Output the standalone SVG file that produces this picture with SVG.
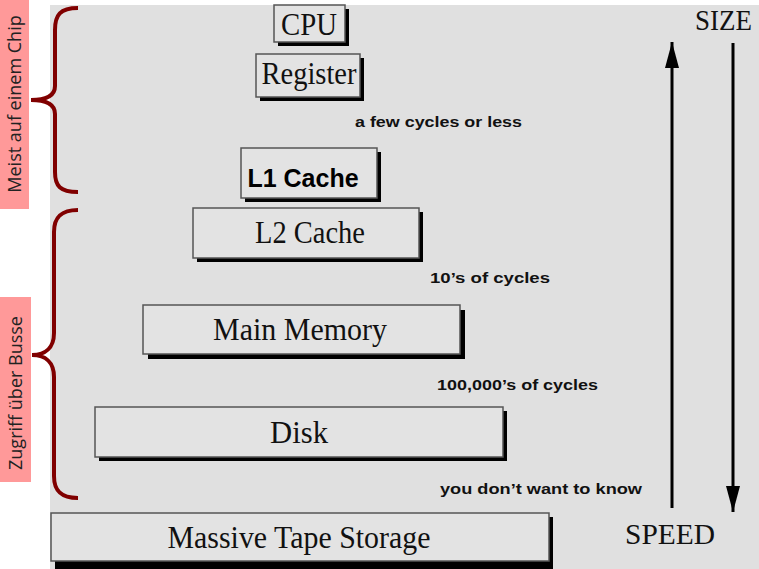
<svg xmlns="http://www.w3.org/2000/svg" width="759" height="569" viewBox="0 0 759 569">
<defs>
<style>
.box{fill:#e3e3e3;stroke:#555;stroke-width:1.5}
.sh{fill:#000}
.serif{font-family:"Liberation Serif","Times New Roman",serif;fill:#111;text-anchor:middle}
.note{font-family:"Liberation Sans",Arial,sans-serif;font-weight:bold;font-size:15px;fill:#111}
.brace{fill:none;stroke:#800000;stroke-width:4;stroke-linecap:butt}
.lbl{font-family:"Open Sans","Liberation Sans",sans-serif;font-size:18px;fill:#222;text-anchor:middle}
.arr{stroke:#000;stroke-width:3;fill:none}
</style>
<marker id="ah" viewBox="0 0 10 10" refX="10" refY="5" markerWidth="26" markerHeight="14" markerUnits="userSpaceOnUse" orient="auto" preserveAspectRatio="none">
<path d="M0,0 L10,5 L0,10 z" fill="#000"/>
</marker>
</defs>
<rect x="0" y="0" width="759" height="569" fill="#fff"/>
<rect x="50" y="5" width="709" height="564" fill="#e0e0e0"/>

<g id="label-chip">
<rect x="0" y="0" width="29" height="209" fill="#ff9999"/>
<text class="lbl" transform="translate(21,104) rotate(-90)">Meist auf einem Chip</text>
</g>
<g id="label-bus">
<rect x="0" y="297" width="31" height="185" fill="#ff9999"/>
<text class="lbl" transform="translate(22,393) rotate(-90)">Zugriff über Busse</text>
</g>
<g id="braces">
<path class="brace" d="M78,8 C60,8 55,15 55,30 L55,86 C55,96 45,100 31,100 C45,100 55,104 55,114 L55,172 C55,186 60,192 78,192"/>
<path class="brace" d="M78,210 C60,210 54,218 54,232 L54,333 C54,348 45,355 32,355 C45,355 54,362 54,377 L54,476 C54,490 60,498 78,498"/>
</g>

<g id="cpu">
<rect class="sh" x="278" y="9" width="71" height="37"/>
<rect class="box" x="274" y="5" width="71" height="37"/>
<text class="serif" x="309" y="35" font-size="32" textLength="56" lengthAdjust="spacingAndGlyphs">CPU</text>
</g>
<g id="register">
<rect class="sh" x="260" y="58" width="104" height="43"/>
<rect class="box" x="256" y="54" width="104" height="43"/>
<text class="serif" x="309" y="84" font-size="32" textLength="95" lengthAdjust="spacingAndGlyphs">Register</text>
</g>
<g id="l1">
<rect class="sh" x="245" y="152" width="136" height="50"/>
<rect class="box" x="241" y="148" width="136" height="50"/>
<text x="303" y="187" font-family="Liberation Sans,Arial,sans-serif" font-weight="bold" font-size="25" fill="#000" text-anchor="middle">L1 Cache</text>
</g>
<g id="l2">
<rect class="sh" x="197" y="212" width="226" height="50"/>
<rect class="box" x="193" y="208" width="226" height="50"/>
<text class="serif" x="310" y="243" font-size="31" textLength="110" lengthAdjust="spacingAndGlyphs">L2 Cache</text>
</g>
<g id="mainmem">
<rect class="sh" x="148" y="310" width="317" height="49"/>
<rect class="box" x="143" y="305" width="317" height="49"/>
<text class="serif" x="300" y="340" font-size="31" textLength="174" lengthAdjust="spacingAndGlyphs">Main Memory</text>
</g>
<g id="disk">
<rect class="sh" x="99" y="411" width="408" height="50"/>
<rect class="box" x="95" y="407" width="408" height="50"/>
<text class="serif" x="299" y="443" font-size="31" textLength="58" lengthAdjust="spacingAndGlyphs">Disk</text>
</g>
<g id="tape">
<rect class="sh" x="55" y="517" width="498" height="52"/>
<rect class="box" x="51" y="513" width="498" height="48"/>
<text class="serif" x="299" y="548" font-size="31" textLength="263" lengthAdjust="spacingAndGlyphs">Massive Tape Storage</text>
</g>

<g id="notes">
<text class="note" x="355" y="127" textLength="167" lengthAdjust="spacingAndGlyphs">a few cycles or less</text>
<text class="note" x="430" y="283" textLength="120" lengthAdjust="spacingAndGlyphs">10’s of cycles</text>
<text class="note" x="437" y="390" textLength="161" lengthAdjust="spacingAndGlyphs">100,000’s of cycles</text>
<text class="note" x="440" y="494" textLength="202" lengthAdjust="spacingAndGlyphs">you don’t want to know</text>
</g>

<g id="axis">
<line class="arr" x1="672" y1="508" x2="672" y2="42" marker-end="url(#ah)"/>
<line class="arr" x1="733" y1="43" x2="733" y2="512" marker-end="url(#ah)"/>
<text class="serif" x="695" y="30" font-size="29" style="text-anchor:start" textLength="57" lengthAdjust="spacingAndGlyphs">SIZE</text>
<text class="serif" x="625" y="544" font-size="30" style="text-anchor:start" textLength="90" lengthAdjust="spacingAndGlyphs">SPEED</text>
</g>
</svg>
